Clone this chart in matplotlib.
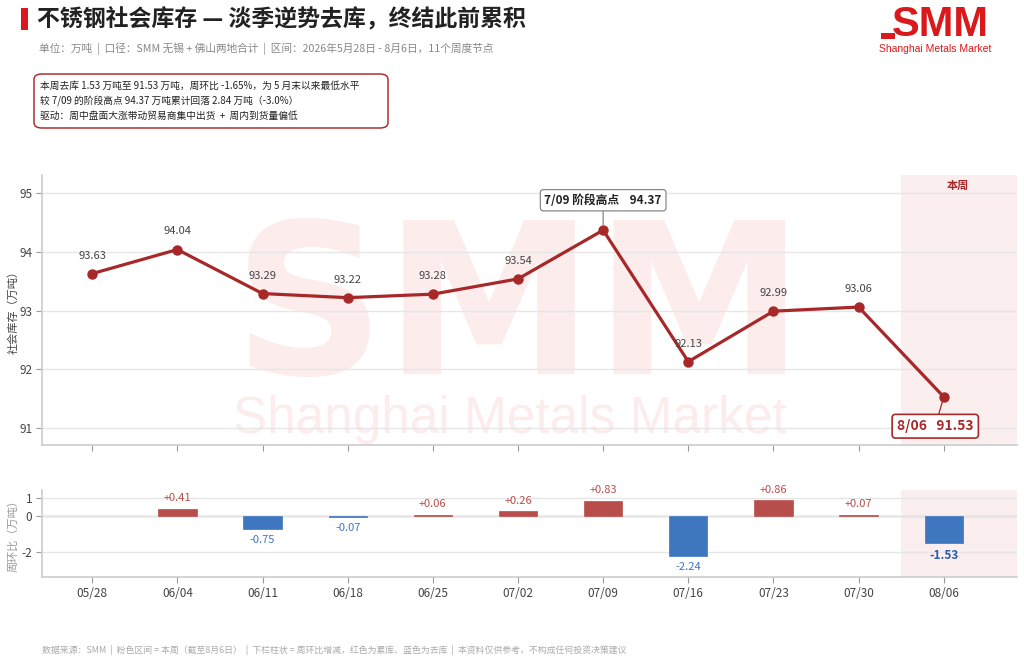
import matplotlib
matplotlib.use("Agg")
import matplotlib.pyplot as plt
from matplotlib.patches import Rectangle, FancyBboxPatch

plt.rcParams['font.family'] = ['Noto Sans CJK SC', 'DejaVu Sans']

dates = ["05/28", "06/04", "06/11", "06/18", "06/25", "07/02", "07/09", "07/16", "07/23", "07/30", "08/06"]
inventory = [93.63, 94.04, 93.29, 93.22, 93.28, 93.54, 94.37, 92.13, 92.99, 93.06, 91.53]
wow_change = [None, 0.41, -0.75, -0.07, 0.06, 0.26, 0.83, -2.24, 0.86, 0.07, -1.53]
top_yticks = [91, 92, 93, 94, 95]
bottom_yticks = [-2, 0, 1]

LINE = "#a8282a"
RED_BAR = "#b84e4b"
BLUE_BAR = "#3e76c0"
GRID = "#e6e6e6"
SPINE = "#cccccc"
SHADE = "#fbeeee"
WM = "#fcecec"

fig = plt.figure(figsize=(10.24, 6.63), dpi=100)
W, H = 1024, 663
def fx(px): return px / W
def fy(py): return 1 - py / H

x = list(range(len(dates)))
xlim = (-0.59, 10.86)

# ---- top axes
ax = fig.add_axes([fx(42), fy(445), fx(1017) - fx(42), fy(175) - fy(445)])
ax.set_xlim(*xlim)
ax.set_ylim(90.71, 95.31)
ax.axvspan(9.5, xlim[1], color=SHADE, zorder=0, lw=0)
ax.set_yticks(top_yticks)
ax.set_yticklabels([str(v) for v in top_yticks], fontsize=8.5, color="#444444")
ax.grid(axis='y', color=GRID, lw=1, zorder=0.5)
ax.set_xticks(x)
ax.set_xticklabels([])
ax.tick_params(axis='x', length=4, color="#999999")
ax.tick_params(axis='y', length=4, color="#999999", pad=3)
for s in ['top', 'right']:
    ax.spines[s].set_visible(False)
for s in ['left', 'bottom']:
    ax.spines[s].set_color(SPINE)
    ax.spines[s].set_linewidth(1.2)
ax.set_ylabel("社会库存（万吨）", fontsize=8, color="#444444")
ax.yaxis.set_label_coords(-0.0245, 0.5)

# watermark
ax.text(0.196, 0.855, "SMM", transform=ax.transAxes, fontsize=152, fontweight='bold',
        color=WM, ha='left', va='top', zorder=0.6, family='DejaVu Sans')
ax.text(0.196, 0.005, "Shanghai Metals Market", transform=ax.transAxes, fontsize=37,
        color=WM, ha='left', va='bottom', zorder=0.6, family='Liberation Sans')

ax.plot(x, inventory, color=LINE, lw=2.3, marker='o', ms=6.5, zorder=3)
for i, v in enumerate(inventory):
    if i in (6, 10):
        continue
    ax.annotate(f"{v:.2f}", (i, v), xytext=(0, 13), textcoords='offset points',
                ha='center', va='center', fontsize=8, color="#444444", zorder=4)

# peak callout
ax.annotate(f"7/09 阶段高点    {inventory[6]:.2f}", (6, inventory[6]), xytext=(6, 94.88),
            textcoords='data', ha='center', va='center', fontsize=8.5, fontweight='bold',
            color="#222222", zorder=5,
            bbox=dict(boxstyle="round,pad=0.35,rounding_size=0.25", fc="white", ec="#888888", lw=0.9),
            arrowprops=dict(arrowstyle='-', color="#888888", lw=0.9, shrinkA=0, shrinkB=3))
# latest callout
ax.annotate(f"8/06   {inventory[10]:.2f}", (10, inventory[10]), xytext=(9.9, 91.03),
            textcoords='data', ha='center', va='center', fontsize=10, fontweight='bold',
            color=LINE, zorder=5,
            bbox=dict(boxstyle="round,pad=0.35,rounding_size=0.25", fc="white", ec=LINE, lw=1.2),
            arrowprops=dict(arrowstyle='-', color=LINE, lw=0.9, shrinkA=0, shrinkB=3))
ax.text(10.16, 95.13, "本周", ha='center', va='center', fontsize=8, fontweight='bold', color=LINE)

# ---- bottom axes
bx = fig.add_axes([fx(42), fy(577), fx(1017) - fx(42), fy(490) - fy(577)])
bx.set_xlim(*xlim)
bx.set_ylim(-3.39, 1.44)
bx.axvspan(9.5, xlim[1], color=SHADE, zorder=0, lw=0)
bx.set_yticks(bottom_yticks)
bx.set_yticklabels([str(v) for v in bottom_yticks], fontsize=8.5, color="#444444")
bx.grid(axis='y', color=GRID, lw=1, zorder=0.5)
bx.axhline(0, color="#aaaaaa", lw=1, zorder=1)
bx.set_xticks(x)
bx.set_xticklabels(dates, fontsize=8.5, color="#444444")
bx.tick_params(axis='x', length=4, color="#999999")
bx.tick_params(axis='y', length=4, color="#999999", pad=3)
for s in ['top', 'right']:
    bx.spines[s].set_visible(False)
for s in ['left', 'bottom']:
    bx.spines[s].set_color(SPINE)
    bx.spines[s].set_linewidth(1.2)
bx.set_ylabel("周环比（万吨）", fontsize=8, color="#999999")
bx.yaxis.set_label_coords(-0.0245, 0.5)

for i, d in enumerate(wow_change):
    if d is None:
        continue
    c = RED_BAR if d > 0 else BLUE_BAR
    bx.bar(i, d, width=0.45, color=c, zorder=2, edgecolor=c, lw=0.5)
    if d > 0:
        bx.annotate(f"+{d:.2f}", (i, d), xytext=(0, 4), textcoords='offset points',
                    ha='center', va='bottom', fontsize=8, color="#b84e4b")
    else:
        last = (i == len(wow_change) - 1)
        bx.annotate(f"{d:.2f}", (i, d), xytext=(0, -4), textcoords='offset points',
                    ha='center', va='top', fontsize=8.5 if last else 8,
                    color="#2a5db0" if last else "#3e76c0",
                    fontweight='bold' if last else 'normal')

# ---- header
fig.add_artist(Rectangle((fx(21), fy(30)), fx(7), fy(8) - fy(30), transform=fig.transFigure,
                         color="#d9191c", lw=0))
fig.text(fx(37), fy(19), "不锈钢社会库存 — 淡季逆势去库，终结此前累积", fontsize=16.5,
         fontweight='bold', color="#222222", ha='left', va='center')
fig.text(fx(39), fy(49), "单位：万吨  |  口径：SMM 无锡 + 佛山两地合计  |  区间：2026年5月28日 - 8月6日，11个周度节点",
         fontsize=7.7, color="#888888", ha='left', va='center')

box = FancyBboxPatch((fx(34), fy(128)), fx(388) - fx(34), fy(74) - fy(128),
                     boxstyle="round,pad=0,rounding_size=0.008", transform=fig.transFigure,
                     fc="white", ec="#b03030", lw=1.1)
fig.add_artist(box)
lines = ["本周去库 1.53 万吨至 91.53 万吨，周环比 -1.65%，为 5 月末以来最低水平",
         "较 7/09 的阶段高点 94.37 万吨累计回落 2.84 万吨（-3.0%）",
         "驱动：周中盘面大涨带动贸易商集中出货  +  周内到货量偏低"]
for k, t in enumerate(lines):
    fig.text(fx(40), fy(86 + 15 * k), t, fontsize=7.0, color="#222222", ha='left', va='center')

# logo
fig.text(fx(940), fy(25), "SMM", fontsize=30, fontweight='bold',
         color="#d9191c", ha='center', va='center', family='Liberation Sans')
fig.add_artist(Rectangle((fx(881), fy(39)), fx(14), fy(33) - fy(39), transform=fig.transFigure,
                         color="#d9191c", lw=0))
fig.text(fx(935), fy(49), "Shanghai Metals Market", fontsize=7.5, color="#d9191c",
         ha='center', va='center', family='Liberation Sans')

# footer
fig.text(fx(42), fy(650), "数据来源：SMM  |  粉色区间 = 本周（截至8月6日）  |  下栏柱状 = 周环比增减，红色为累库、蓝色为去库  |  本资料仅供参考，不构成任何投资决策建议",
         fontsize=6.4, color="#aaaaaa", ha='left', va='center')

fig.savefig("out.png", dpi=100)
